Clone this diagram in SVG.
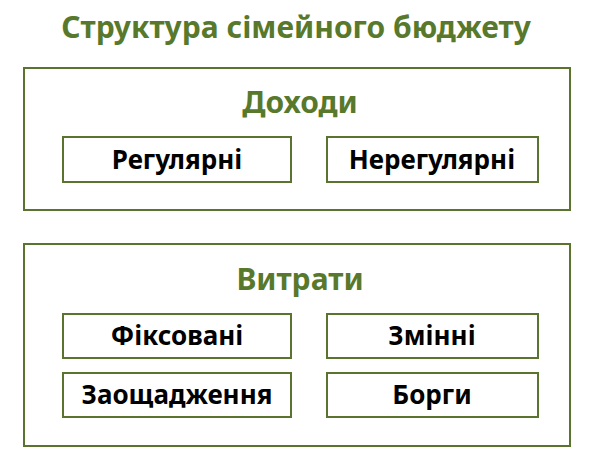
<svg xmlns="http://www.w3.org/2000/svg" width="596" height="464" viewBox="0 0 596 464">
<style>
.outer{fill:#fff;stroke:#5a7430;stroke-width:2}
.inner{fill:#fff;stroke:#5a7430;stroke-width:2}
.title{font-family:"Noto Sans","Open Sans",sans-serif;font-weight:bold;fill:#58792b;text-anchor:middle;font-size:30px}
.lbl{font-family:"Noto Sans","Open Sans",sans-serif;font-weight:bold;fill:#000;font-size:26px;text-anchor:middle}
</style>
<rect width="596" height="464" fill="#fff"/>
<text class="title" x="296" y="38">Структура сімейного бюджету</text>
<g id="income">
<rect class="outer" x="24" y="68" width="546" height="142"/>
<text class="title" x="300" y="113">Доходи</text>
<g id="regular"><rect class="inner" x="63" y="137" width="228" height="45"/><text class="lbl" x="177" y="169">Регулярні</text></g>
<g id="irregular"><rect class="inner" x="327" y="137" width="211" height="45"/><text class="lbl" x="432" y="169">Нерегулярні</text></g>
</g>
<g id="expenses">
<rect class="outer" x="24" y="244" width="546" height="202"/>
<text class="title" x="300" y="290">Витрати</text>
<g id="fixed"><rect class="inner" x="63" y="314" width="228" height="44"/><text class="lbl" x="177" y="345">Фіксовані</text></g>
<g id="variable"><rect class="inner" x="327" y="314" width="211" height="44"/><text class="lbl" x="432" y="345">Змінні</text></g>
<g id="savings"><rect class="inner" x="63" y="373" width="228" height="44"/><text class="lbl" x="177" y="404">Заощадження</text></g>
<g id="debts"><rect class="inner" x="327" y="373" width="211" height="44"/><text class="lbl" x="432" y="404">Борги</text></g>
</g>
<g id="connectors"/>
</svg>
